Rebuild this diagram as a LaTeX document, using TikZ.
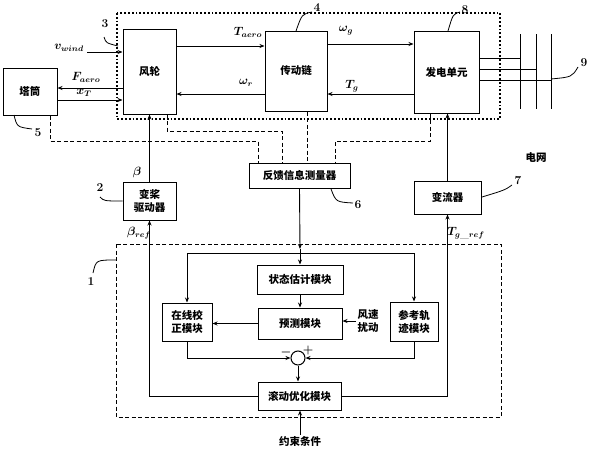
\documentclass[tikz,border=0pt]{standalone}
\usepackage{fontspec}
\newfontfamily\cjk{Noto Sans CJK SC}
\usepackage{tikz}
\usetikzlibrary{arrows.meta,
                calc,
                positioning}

\tikzset{
  blk/.style={draw,line width=1pt,align=center,inner sep=1pt,
              font=\cjk\bfseries\fontsize{10.5}{13}\selectfont},
  txt/.style={align=center,inner sep=1pt,
              font=\cjk\bfseries\fontsize{10.5}{13}\selectfont},
  sig/.style={inner sep=1pt,font=\fontsize{12}{14}\selectfont\boldmath},
  num/.style={inner sep=0pt,font=\bfseries\fontsize{12}{14}\selectfont},
  fb/.style={line width=0.9pt,dash pattern=on 4pt off 2.5pt},
  lead/.style={line width=0.8pt}
}

\begin{document}
\begin{tikzpicture}[x=1pt,y=-1pt,line width=0.9pt,>={Stealth[length=5pt,width=4pt]}]
\useasboundingbox (0,0) rectangle (592,450);

\draw[line width=1.8pt,dotted] (117,13) rectangle (500,119);
\draw[fb] (116,244) rectangle (501,417);

\node[blk,minimum width=54pt,minimum height=47pt] (tower) at (30,91.5) {塔筒};
\node[blk,minimum width=53pt,minimum height=85pt] (rotor) at (149.5,71.5) {风轮};
\node[blk,minimum width=62pt,minimum height=80pt] (drive) at (296,71) {传动链};
\node[blk,minimum width=65pt,minimum height=82pt] (gen) at (446.5,72) {发电单元};
\node[blk,minimum width=53pt,minimum height=38pt] (pitch) at (149.5,201) {变桨\\驱动器};
\node[blk,minimum width=101pt,minimum height=25pt] (sensor) at (299.5,175.5) {反馈信息测量器};
\node[blk,minimum width=67pt,minimum height=33pt] (conv) at (447.5,197.5) {变流器};
\node[blk,minimum width=86pt,minimum height=29pt] (est) at (300,279.5) {状态估计模块};
\node[blk,minimum width=84pt,minimum height=31pt] (pred) at (300,323.5) {预测模块};
\node[blk,minimum width=50pt,minimum height=38pt] (corr) at (187,322) {在线校\\正模块};
\node[blk,minimum width=48pt,minimum height=39pt] (ref) at (414,321.5) {参考轨\\迹模块};
\node[blk,minimum width=83pt,minimum height=28pt] (opt) at (299.5,396) {滚动优化模块};
\node[circle,draw,line width=1pt,minimum size=14pt,inner sep=0pt] (sum) at (298,358) {};
\node[txt] (wind) at (368,321) {风速\\扰动};
\node[txt] (cons) at (300,441) {约束条件};
\node[txt] (grid) at (536,158) {电网};

\coordinate (vw) at (87,52);
\coordinate (split) at (300,253);

\draw[->] (vw) -- (rotor.west |- vw);
\draw[->] (rotor.west |- 0,88) -- (tower.east |- 0,88);
\draw[->] (tower.east |- 0,100) -- (rotor.west |- 0,100);
\draw[->] (rotor.east |- 0,46) -- (drive.west |- 0,46);
\draw[->] (drive.west |- 0,94) -- (rotor.east |- 0,94);
\draw[->] (drive.east |- 0,44) -- (gen.west |- 0,44);
\draw[->] (gen.west |- 0,94) -- (drive.east |- 0,94);

\foreach \y/\x in {58/520,69/536,80/551}
  \draw (gen.east |- 0,\y) -- (\x,\y);
\foreach \x in {520,536,551}
  \draw (\x,34) -- (\x,109);

\draw[->] (pitch.north) -- (rotor.south);
\draw[->] (opt.west) -| (pitch.south);
\draw[->] (opt.east) -| (conv.south);
\draw[->] (conv.north) -- (conv.north |- gen.south);

\draw[fb] (tower.south -| 50,0) |- (258,141) -- (sensor.north -| 258,0);
\draw[fb] (rotor.south -| 167,0) |- (282,131) -- (sensor.north -| 282,0);
\draw[fb] (drive.south -| 307,0) -- (sensor.north -| 307,0);
\draw[fb] (gen.south -| 430,0) |- (335,141) -- (sensor.north -| 335,0);

\draw[->] (sensor.south) -- (300,249);
\draw (300,249) -- (split);
\draw[->] (split) -- (est.north);
\draw[->] (split) -| (corr.north);
\draw[->] (split) -| (ref.north);
\draw[->] (est.south) -- (pred.north);
\draw[->] (pred.west) -- (corr.east |- pred.west);
\draw[->] (wind.west) -- (pred.east |- wind.west);
\draw[->] (corr.south) |- (sum.west);
\draw[->] (ref.south) |- (sum.east);
\draw[->] (sum.south) -- (sum.south |- opt.north);
\draw[->] (cons.north) -- (cons.north |- opt.south);

\node[sig] at (69,48) {$v_{wind}$};
\node[sig] at (86,77) {$F_{aero}$};
\node[sig] at (84,93) {$x_T$};
\node[sig] at (248,32) {$T_{aero}$};
\node[sig] at (246,83) {$\omega_r$};
\node[sig] at (346,31) {$\omega_g$};
\node[sig] at (352,86) {$T_g$};
\node[sig] at (137,172) {$\beta$};
\node[sig] at (139,233) {$\beta_{ref}$};
\node[sig] at (466,233) {$T_{g\_ref}$};
\node[sig] at (286,352) {$-$};
\node[sig] at (308,350) {$+$};

\node[num] (n3) at (105,24) {3};
\node[num] (n5) at (38,133) {5};
\node[num] (n4) at (317,8) {4};
\node[num] (n8) at (465,10) {8};
\node[num] (n9) at (584,63) {9};
\node[num] (n2) at (100,188) {2};
\node[num] (n6) at (358,205) {6};
\node[num] (n7) at (518,181) {7};
\node[num] (n1) at (91,282) {1};

\draw[lead] (104,37) .. controls (106,43) .. (118,46);
\draw[lead] (14,115) .. controls (17,127) .. (32,129);
\draw[lead] (296,31) .. controls (302,14) .. (312,12);
\draw[lead] (448,31) .. controls (453,14) .. (460,12);
\draw[lead] (551,79) .. controls (572,77) .. (578,67);
\draw[lead] (100,197) .. controls (104,201) .. (pitch.west);
\draw[lead] (331,189) .. controls (336,202) .. (353,203);
\draw[lead] (482,197) .. controls (505,190) .. (512,185);
\draw[lead] (116,260) .. controls (96,260) .. (93,273);
\end{tikzpicture}
\end{document}
